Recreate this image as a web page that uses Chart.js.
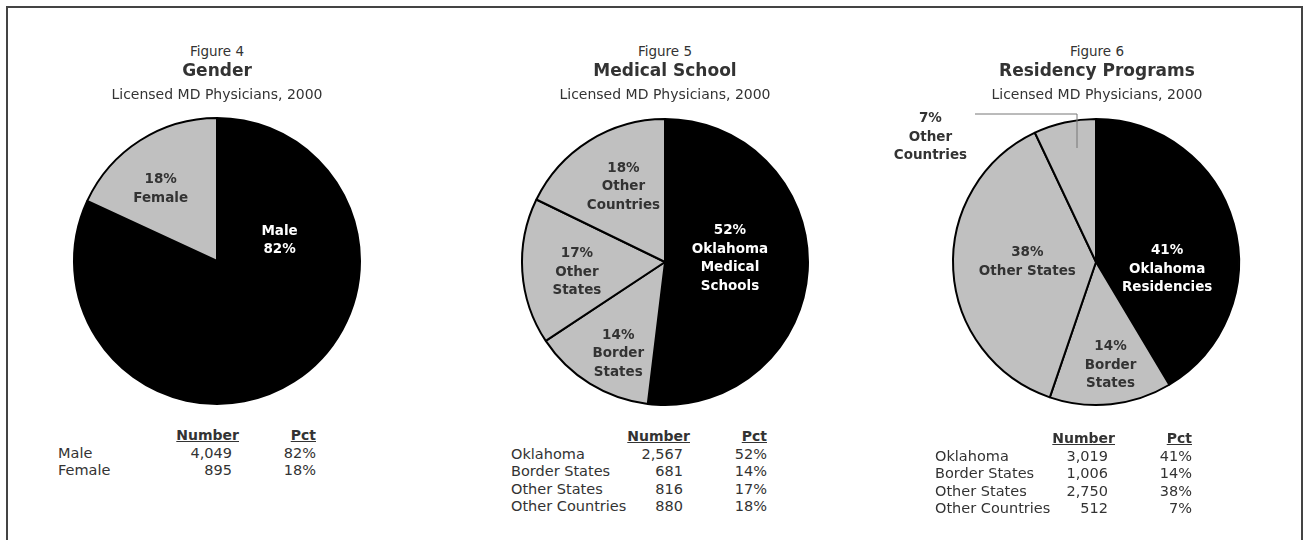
<!DOCTYPE html>
<html>
<head>
<meta charset="utf-8">
<script src="https://cdn.jsdelivr.net/npm/chart.js@4/dist/chart.umd.min.js"></script>
<style>
  body { margin: 0; width: 1304px; height: 540px; background: #fff; position: relative; overflow: hidden;
         font-family: 'Century Gothic', 'DejaVu Sans', sans-serif; color: #333; }
  .frame { position: absolute; left: 6px; top: 6px; width: 1297px; height: 560px; border: 2px solid #444; box-sizing: border-box; }
  .t { position: absolute; white-space: nowrap; line-height: 18px; }
  canvas { position: absolute; }
</style>
</head>
<body>
<div class="frame"></div>
<canvas id="pie1" width="440" height="320"></canvas>
<canvas id="pie2" width="440" height="320"></canvas>
<canvas id="pie3" width="440" height="320"></canvas>
<script>
// Figure 4 - gender
const genderLabels = ['Male', 'Female'];
const genderCounts = [4049, 895];
const genderPct = ['82%', '18%'];
const genderText = [['Male', '82%'], ['18%', 'Female']];

// Figure 5 - medical school
const schoolLabels = ['Oklahoma', 'Border States', 'Other States', 'Other Countries'];
const schoolCounts = [2567, 681, 816, 880];
const schoolPct = ['52%', '14%', '17%', '18%'];
const schoolText = [['52%', 'Oklahoma', 'Medical', 'Schools'], ['14%', 'Border', 'States'], ['17%', 'Other', 'States'], ['18%', 'Other', 'Countries']];

// Figure 6 - residency programs
const residencyLabels = ['Oklahoma', 'Border States', 'Other States', 'Other Countries'];
const residencyCounts = [3019, 1006, 2750, 512];
const residencyPct = ['41%', '14%', '38%', '7%'];
const residencyText = [['41%', 'Oklahoma', 'Residencies'], ['14%', 'Border', 'States'], ['38%', 'Other States'], ['7%', 'Other', 'Countries']];

const FONT = "'Century Gothic', 'DejaVu Sans', sans-serif";

function addText(str, x, y, css) {
    const d = document.createElement('div');
    d.className = 't';
    d.textContent = str;
    d.style.top = (y - 9) + 'px';
    Object.assign(d.style, css || {});
    if (css && css.right !== undefined) {
        d.style.right = (1304 - css.right) + 'px';
    } else if (css && css.center) {
        d.style.left = (x - 200) + 'px';
        d.style.width = '400px';
        d.style.textAlign = 'center';
    } else {
        d.style.left = x + 'px';
    }
    document.body.appendChild(d);
}

function addTitle(cx, fig, title) {
    addText(fig, cx, 51, { center: true, fontSize: '13.5px' });
    addText(title, cx, 70, { center: true, fontSize: '17px', fontWeight: 'bold' });
    addText('Licensed MD Physicians, 2000', cx, 94, { center: true, fontSize: '14px' });
}

function addTable(left, top, labels, counts, pcts, numRight, pctRight) {
    const s = { fontSize: '14.5px' };
    addText('Number', 0, top, { right: numRight + 7, fontSize: '14px', fontWeight: 'bold', textDecoration: 'underline' });
    addText('Pct', 0, top, { right: pctRight, fontSize: '14px', fontWeight: 'bold', textDecoration: 'underline' });
    labels.forEach((lab, i) => {
        const y = top + 17.5 * (i + 1);
        addText(lab, left, y, s);
        addText(counts[i].toLocaleString('en-US'), 0, y, { right: numRight, fontSize: '14.5px' });
        addText(pcts[i], 0, y, { right: pctRight, fontSize: '14.5px' });
    });
}

// labels inside the slices, placed by angle (deg from top, clockwise) and fraction of radius
const sliceText = {
    id: 'sliceText',
    afterDatasetsDraw(chart, args, opts) {
        const ctx = chart.ctx;
        const arcs = chart.getDatasetMeta(0).data;
        ctx.save();
        ctx.font = 'bold 13.5px ' + FONT;
        ctx.textAlign = 'center';
        ctx.textBaseline = 'middle';
        arcs.forEach((arc, i) => {
            const { x, y, outerRadius } = arc.getProps(['x', 'y', 'outerRadius'], true);
            const [deg, frac] = opts.spots[i];
            const a = deg * Math.PI / 180;
            const px = x + Math.sin(a) * frac * outerRadius;
            const py = y - Math.cos(a) * frac * outerRadius;
            const lines = opts.text[i];
            ctx.fillStyle = opts.colors[i];
            lines.forEach((ln, k) => {
                ctx.fillText(ln, px, py + (k - (lines.length - 1) / 2) * 18.5);
            });
            if (opts.leader && opts.leader[i]) {
                const pts = opts.leader[i];
                ctx.strokeStyle = '#777';
                ctx.lineWidth = 1;
                ctx.beginPath();
                pts.forEach((p, k) => {
                    const lx = x + p[0], ly = y + p[1];
                    if (k === 0) ctx.moveTo(lx, ly); else ctx.lineTo(lx, ly);
                });
                ctx.stroke();
            }
        });
        ctx.restore();
    }
};

function makePie(id, cx, cy, labels, counts, colors, textColors, text, spots, leader) {
    const el = document.getElementById(id);
    el.style.left = (cx - 220) + 'px';
    el.style.top = (cy - 160) + 'px';
    new Chart(el.getContext('2d'), {
        type: 'pie',
        data: {
            labels: labels,
            datasets: [{
                data: counts,
                backgroundColor: colors,
                borderColor: '#000',
                borderWidth: 2,
                radius: 143
            }]
        },
        options: {
            responsive: false,
            animation: false,
            events: [],
            layout: { padding: 0 },
            plugins: {
                legend: { display: false },
                tooltip: { enabled: false },
                sliceText: { text: text, colors: textColors, spots: spots, leader: leader }
            }
        },
        plugins: [sliceText]
    });
}

const BLACK = '#000000';
const GRAY = '#c0c0c0';

addTitle(217, 'Figure 4', 'Gender');
addTitle(665, 'Figure 5', 'Medical School');
addTitle(1097, 'Figure 6', 'Residency Programs');

makePie('pie1', 217, 261, genderLabels, genderCounts, [BLACK, GRAY], ['#fff', '#333'], genderText,
    [[72, 0.46], [322, 0.64]]);
makePie('pie2', 665, 262, schoolLabels, schoolCounts, [BLACK, GRAY, GRAY, GRAY], ['#fff', '#333', '#333', '#333'], schoolText,
    [[87, 0.455], [207, 0.72], [263.5, 0.62], [331, 0.6]]);
makePie('pie3', 1096, 262, residencyLabels, residencyCounts, [BLACK, GRAY, GRAY, GRAY], ['#fff', '#333', '#333', '#333'], residencyText,
    [[96, 0.5], [172, 0.73], [270, 0.48], [307, 1.45]],
    [null, null, null, [[-121, -148], [-19, -148], [-19, -114]]]);

addTable(58, 435, genderLabels, genderCounts, genderPct, 232, 316);
addTable(511, 436, schoolLabels, schoolCounts, schoolPct, 683, 767);
addTable(935, 438, residencyLabels, residencyCounts, residencyPct, 1108, 1192);
</script>
</body>
</html>
